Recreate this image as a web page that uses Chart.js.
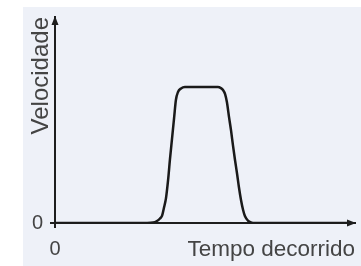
<!DOCTYPE html>
<html>
<head>
<meta charset="utf-8">
<script src="https://cdn.jsdelivr.net/npm/chart.js@4.4.1/dist/chart.umd.min.js"></script>
<style>
    body { margin: 0; background: #ffffff; }
    #panel {
        position: absolute; left: 23px; top: 7px;
        width: 338px; height: 259px;
        background: #eef1f8;
    }
</style>
</head>
<body>
<div id="panel"><canvas id="myChart" width="338" height="259"></canvas></div>
<script>
// tempo decorrido (x) and velocidade (y)
let timeValues  = [0, 3.07, 3.27, 3.4, 3.5, 3.57, 3.63, 3.7, 3.77, 3.83, 3.9, 3.97, 4.03, 4.1, 4.2, 4.33,
                   5.43, 5.53, 5.6, 5.67, 5.73, 5.8, 5.87, 5.93, 6.0, 6.07, 6.13, 6.2, 6.27, 6.33, 6.43, 6.53, 6.67, 9.8];
let speedValues = [0, 0, 0.02, 0.1, 0.22, 0.36, 0.73, 1.21, 2.09, 3.06, 4.08, 5.1, 5.97, 6.36, 6.53, 6.6,
                   6.6, 6.55, 6.46, 6.26, 5.87, 5.15, 4.47, 3.79, 3.06, 2.38, 1.75, 1.12, 0.63, 0.34, 0.12, 0.03, 0, 0];
let xTickLabels = ['0'];
let yTickLabels = ['0'];
let xTitle = 'Tempo decorrido';
let yTitle = 'Velocidade';

const axisColor = '#1e1e1e';
const textColor = '#444444';
const family = "'Liberation Sans', Arial, sans-serif";

let points = [];
for (let i = 0; i < timeValues.length; i++) {
    points.push({ x: timeValues[i], y: speedValues[i] });
}

//Draw arrow heads at the ends of both axes
const arrowPlugin = {
    id: 'arrows',
    afterDraw(chart) {
        const ctx = chart.ctx;
        const a = chart.chartArea;
        ctx.save();
        ctx.fillStyle = axisColor;
        ctx.beginPath();
        ctx.moveTo(a.left, a.top - 1);
        ctx.lineTo(a.left - 3.5, a.top + 8);
        ctx.lineTo(a.left + 3.5, a.top + 8);
        ctx.closePath();
        ctx.fill();
        ctx.beginPath();
        ctx.moveTo(a.right + 1, a.bottom);
        ctx.lineTo(a.right - 8, a.bottom - 3.5);
        ctx.lineTo(a.right - 8, a.bottom + 3.5);
        ctx.closePath();
        ctx.fill();
        ctx.restore();
    }
};

var config = {
    type: 'line',
    data: {
        datasets: [{
            data: points,
            borderColor: '#1a1a1a',
            borderWidth: 2.5,
            pointRadius: 0,
            fill: false,
            cubicInterpolationMode: 'monotone'
        }]
    },
    options: {
        responsive: false,
        animation: false,
        layout: { padding: { top: 0, right: 6, left: 0, bottom: 0 } },
        plugins: { legend: { display: false }, tooltip: { enabled: false } },
        scales: {
            x: {
                type: 'linear',
                min: 0,
                max: 10,
                afterFit: (s) => { s.height = 43; },
                afterBuildTicks: (s) => { s.ticks = [{ value: 0 }]; },
                border: { color: axisColor, width: 2 },
                grid: { drawOnChartArea: false, color: axisColor, lineWidth: 2, tickLength: 5 },
                ticks: {
                    color: textColor,
                    font: { family: family, size: 20, lineHeight: 1 },
                    padding: 11,
                    maxRotation: 0,
                    callback: (v, i) => xTickLabels[i]
                },
                title: {
                    display: true,
                    text: xTitle,
                    align: 'end',
                    color: textColor,
                    font: { family: family, size: 22.5 },
                    padding: { top: 0, bottom: 3 }
                }
            },
            y: {
                min: 0,
                max: 10,
                afterFit: (s) => { s.width = 32; },
                afterBuildTicks: (s) => { s.ticks = [{ value: 0 }]; },
                border: { color: axisColor, width: 2 },
                grid: { drawOnChartArea: false, color: axisColor, lineWidth: 2, tickLength: 5 },
                ticks: {
                    color: textColor,
                    font: { family: family, size: 20, lineHeight: 0.3 },
                    padding: 7,
                    callback: (v, i) => yTickLabels[i]
                },
                title: {
                    display: true,
                    text: yTitle,
                    align: 'end',
                    color: textColor,
                    font: { family: family, size: 24 },
                    padding: { top: 4, bottom: 0 }
                }
            }
        }
    },
    plugins: [arrowPlugin]
};

var myChart = new Chart(document.getElementById('myChart'), config);
</script>
</body>
</html>
